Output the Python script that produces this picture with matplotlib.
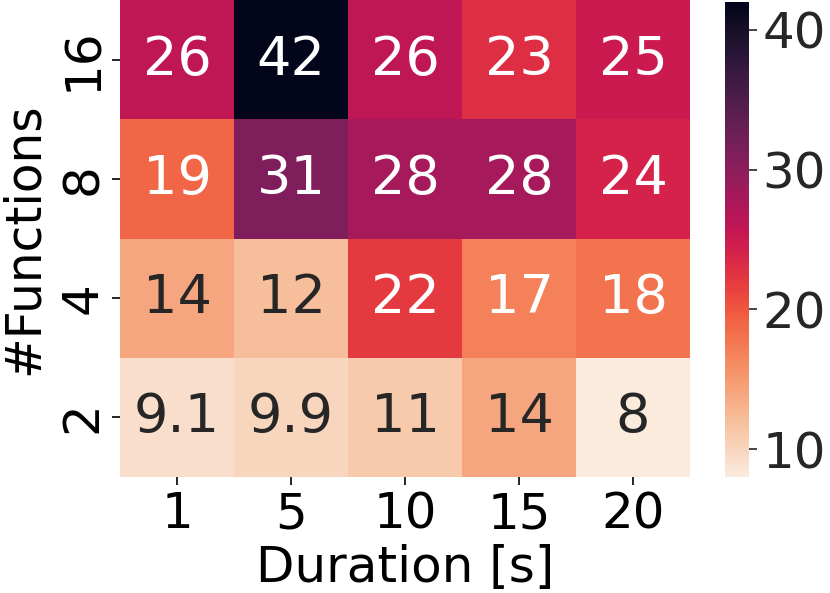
import matplotlib
matplotlib.use("Agg")
import matplotlib.pyplot as plt
import seaborn as sns
import numpy as np
import pandas as pd

durations = [1, 5, 10, 15, 20]
functions = [16, 8, 4, 2]
row_16 = [26, 42, 26, 23, 25]
row_8 = [19, 31, 28, 28, 24]
row_4 = [14, 12, 22, 17, 18]
row_2 = [9.1, 9.9, 11, 14, 8]

df = pd.DataFrame([row_16, row_8, row_4, row_2], index=functions, columns=durations)

fig = plt.figure(figsize=(8.3, 5.93), dpi=100)
ax = fig.add_axes([120/830, 116/593, 570/830, 477/593])
cax = fig.add_axes([725/830, 116/593, 24/830, 475/593])

sns.heatmap(df, ax=ax, cbar_ax=cax, cmap="rocket_r", vmin=8, vmax=42,
            annot=True, annot_kws={"fontsize": 39})

ax.set_xlabel("Duration [s]", fontsize=36)
ax.set_ylabel("#Functions", fontsize=35, labelpad=8)
ax.tick_params(axis="both", labelsize=36, length=6, width=1.2)
ax.set_yticklabels(ax.get_yticklabels(), rotation=90, va="center")
cax.tick_params(labelsize=36, length=6, width=1.2, colors="#262626")
cax.set_yticks([10, 20, 30, 40])

fig.savefig("out.png", dpi=100)
